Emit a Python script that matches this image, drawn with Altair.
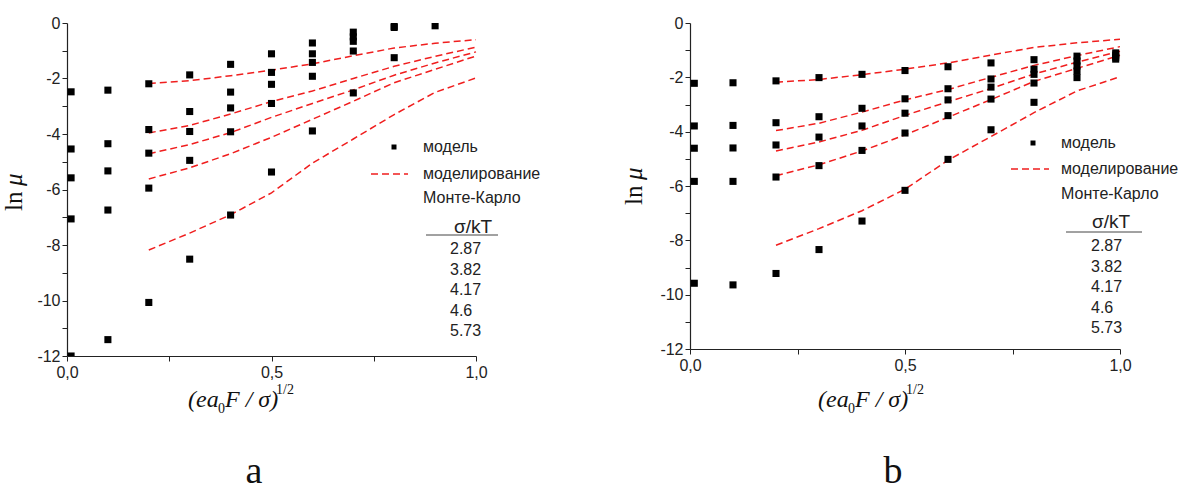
import altair as alt
import pandas as pd

# ---------------- data ----------------
# panel a: model points, grouped by x column
a_cols = [0.01, 0.1, 0.2, 0.3, 0.4, 0.5, 0.6, 0.7, 0.8, 0.9]
a_vals = [
    [-2.48, -4.54, -5.58, -7.06, -12.0],
    [-2.42, -4.35, -5.33, -6.74, -11.41],
    [-2.19, -3.84, -4.69, -5.95, -10.07],
    [-1.87, -3.19, -3.91, -4.95, -8.51],
    [-1.49, -2.49, -3.06, -3.92, -6.92],
    [-1.11, -1.78, -2.21, -2.90, -5.37],
    [-0.72, -1.11, -1.42, -1.92, -3.89],
    [-0.33, -0.50, -0.66, -1.01, -2.52],
    [-0.12, -0.16, -1.25],
    [-0.10],
]
# panel b: model points
b_cols = [0.01, 0.1, 0.2, 0.3, 0.4, 0.5, 0.6, 0.7, 0.8, 0.9, 0.99]
b_vals = [
    [-2.22, -3.79, -4.61, -5.83, -9.58],
    [-2.20, -3.77, -4.60, -5.83, -9.64],
    [-2.13, -3.67, -4.49, -5.67, -9.22],
    [-2.01, -3.45, -4.20, -5.25, -8.34],
    [-1.89, -3.14, -3.79, -4.69, -7.29],
    [-1.75, -2.79, -3.32, -4.05, -6.16],
    [-1.61, -2.42, -2.83, -3.41, -5.02],
    [-1.47, -2.06, -2.36, -2.80, -3.93],
    [-1.35, -1.70, -1.89, -2.21, -2.92],
    [-1.22, -1.40, -1.58, -1.77, -2.01],
    [-1.10, -1.18, -1.26, -1.33],
]
# Monte-Carlo simulation curves (same in both panels)
sim_x = [0.2, 0.3, 0.4, 0.5, 0.6, 0.7, 0.8, 0.9, 1.0]
sim_287 = [-2.18, -2.08, -1.90, -1.70, -1.47, -1.18, -0.90, -0.73, -0.60]
sim_382 = [-3.96, -3.69, -3.28, -2.83, -2.45, -2.00, -1.56, -1.20, -0.87]
sim_417 = [-4.71, -4.38, -3.95, -3.40, -2.90, -2.41, -1.88, -1.44, -1.04]
sim_460 = [-5.62, -5.22, -4.71, -4.12, -3.47, -2.82, -2.15, -1.67, -1.19]
sim_573 = [-8.18, -7.57, -6.91, -6.12, -5.05, -4.18, -3.30, -2.50, -1.98]
sigma_labels = ["2.87", "3.82", "4.17", "4.6", "5.73"]
x_ticks = [0, 0.25, 0.5, 0.75, 1.0]
y_ticks = list(range(-12, 1))

RED = "#f01e1e"
AX = "#222222"
SANS = "Liberation Sans"
SERIF = "Liberation Serif"


def one(**kw):
    return alt.Data(values=[kw if kw else {"k": 0}])


def text(t, x, y, size=16, font=SANS, style="normal", align="left",
         baseline="middle", angle=0, color=AX, **extra):
    props = dict(font=font, fontSize=size, fontStyle=style, align=align,
                 baseline=baseline, color=color, **extra)
    if angle:
        props["angle"] = angle
    return alt.Chart(one(t=t)).mark_text(**props).encode(
        x=alt.value(x), y=alt.value(y), text="t:N")


def panel(cols, vals, W, H, lg, tx0, letter, letter_x, ytx):
    pts = pd.DataFrame([{"x": c, "y": v} for c, vs in zip(cols, vals) for v in vs])
    series = [sim_287, sim_382, sim_417, sim_460, sim_573]
    lines = pd.DataFrame([{"x": x, "y": y, "s": s}
                          for s, ys in zip(sigma_labels, series)
                          for x, y in zip(sim_x, ys)])
    xsc = alt.Scale(domain=[0, 1], nice=False, zero=False)
    ysc = alt.Scale(domain=[-12, 0], nice=False, zero=False)
    xax = alt.Axis(values=x_ticks, grid=False, title=None, labelFlush=False,
                   labelExpr="(datum.value == 0.25 || datum.value == 0.75) ? '' : replace(format(datum.value, '.1f'), '.', ',')",
                   labelFont=SANS, labelFontSize=16, labelColor=AX, labelPadding=3,
                   tickSize=5, tickColor=AX, domainColor=AX, domainWidth=1.2,
                   labelOverlap=False)
    yax = alt.Axis(values=y_ticks, grid=False, title=None,
                   labelExpr="datum.value % 2 == 0 ? toString(datum.value) : ''",
                   labelFont=SANS, labelFontSize=16, labelColor=AX, labelPadding=2,
                   tickSize=5, tickColor=AX, domainColor=AX, domainWidth=1.2,
                   labelOverlap=False)
    X = alt.X("x:Q", scale=xsc, axis=xax)
    Y = alt.Y("y:Q", scale=ysc, axis=yax)

    sim = alt.Chart(lines).mark_line(color=RED, strokeDash=[7, 4], strokeWidth=1.5).encode(
        x=X, y=Y, detail="s:N")
    model = alt.Chart(pts).mark_square(color="black", size=50, opacity=1, clip=True).encode(
        x=X, y=Y)

    layers = [sim, model]
    # anchor so that the plot origin sits where the reference has it
    layers.append(alt.Chart(one()).mark_rule(color="white", opacity=0.01).encode(
        x=alt.value(-66), x2=alt.value(-65), y=alt.value(-22), y2=alt.value(-21)))
    # legend
    layers.append(alt.Chart(one()).mark_square(color="black", size=25, opacity=1).encode(
        x=alt.value(lg["mx"]), y=alt.value(lg["my"])))
    layers.append(text("модель", lg["tx"], lg["my"]))
    layers.append(alt.Chart(one()).mark_rule(color=RED, strokeDash=[7, 4], strokeWidth=1.5).encode(
        x=alt.value(lg["dx1"]), x2=alt.value(lg["dx2"]), y=alt.value(lg["dy"])))
    layers.append(text("моделирование", lg["tx"], lg["dy"]))
    layers.append(text("Монте-Карло", lg["tx"], lg["my3"]))
    layers.append(text("σ/kT", lg["sx"], lg["sy"], size=19, align="center"))
    layers.append(alt.Chart(one()).mark_rule(color="#444", strokeWidth=1).encode(
        x=alt.value(lg["ux1"]), x2=alt.value(lg["ux2"]), y=alt.value(lg["uy"])))
    layers.append(text("\n".join(sigma_labels), lg["nx"], lg["ny"], size=16,
                       baseline="top", lineBreak="\n", lineHeight=20.5))
    # axis titles
    layers.append(text("ln", ytx, lg["yly"], size=25, font=SERIF, angle=270,
                       baseline="alphabetic", color="#111"))
    layers.append(text("μ", ytx, lg["yly"] - 25, size=25, font=SERIF, style="italic",
                       angle=270, baseline="alphabetic", color="#111"))
    tb = 384
    layers.append(text("(ea", tx0, tb, size=24, font=SERIF, style="italic",
                       baseline="alphabetic", color="#111"))
    layers.append(text("0", tx0 + 30, tb + 6, size=14, font=SERIF,
                       baseline="alphabetic", color="#111"))
    layers.append(text("F / σ)", tx0 + 37, tb, size=24, font=SERIF, style="italic",
                       baseline="alphabetic", color="#111"))
    layers.append(text("1/2", tx0 + 88, tb - 13, size=14, font=SERIF,
                       baseline="alphabetic", color="#111"))
    layers.append(text(letter, letter_x, 460, size=38, font=SERIF, align="center",
                       baseline="alphabetic", color="#111"))
    return alt.layer(*layers).properties(width=W, height=H)


leg_a = dict(mx=327, my=124, tx=356, dx1=304, dx2=341, dy=151, my3=175,
             sx=406, sy=204, ux1=359, ux2=431, uy=212, nx=383, ny=218, yly=188)
leg_b = dict(mx=343, my=120, tx=371, dx1=321, dx2=359, dy=146, my3=171,
             sx=421, sy=199, ux1=376, ux2=452, uy=209, nx=401, ny=215, yly=182)

pa = panel(a_cols, a_vals, 409, 333, leg_a, 121, "a", 187, -45)
pb = panel(b_cols, b_vals, 430, 326, leg_b, 128, "b", 203, -48)

chart = alt.HConcatChart(hconcat=[pa, pb], spacing=214, bounds="flush").properties(
    padding={"left": 0, "top": 0, "right": 0, "bottom": 0},
    background="white",
).configure_view(stroke=None)

chart.save("out.html", embed_options={"renderer": "svg", "actions": False})
